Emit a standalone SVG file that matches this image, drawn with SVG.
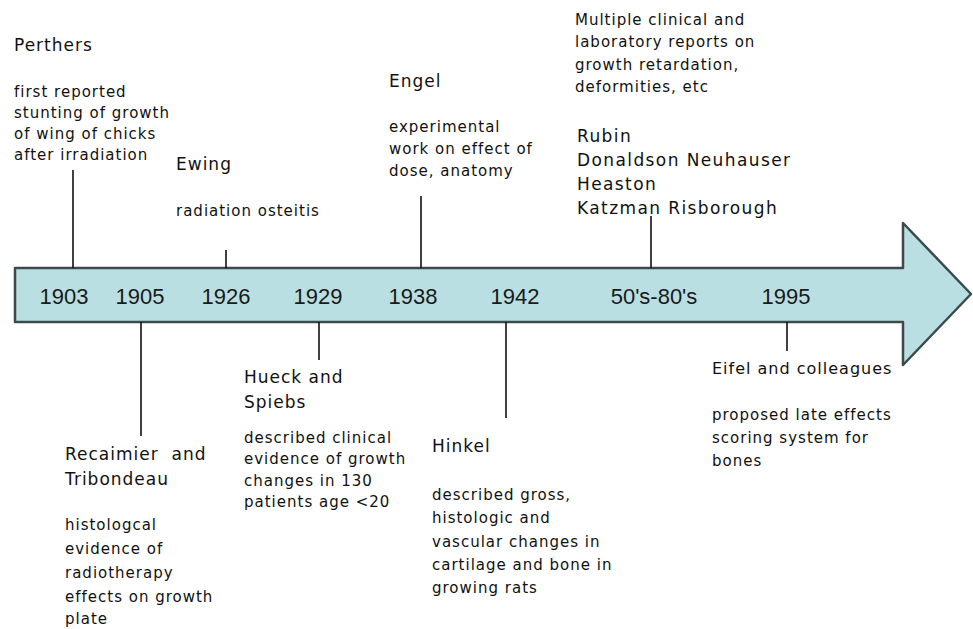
<svg xmlns="http://www.w3.org/2000/svg" width="973" height="629" viewBox="0 0 973 629">
  <style>
    .bg { fill: #ffffff; }
    .arrow { fill: #b9dfe3; stroke: #3c4a4c; stroke-width: 2.5; stroke-linejoin: round; }
    .tick { stroke: #111; stroke-width: 1.6; fill: none; }
    .year { font-family: "Liberation Sans", Arial, sans-serif; font-size: 22px; fill: #1a1a1a; text-anchor: middle; }
    .name { font-family: "DejaVu Sans", Verdana, sans-serif; font-size: 17px; letter-spacing: 1px; fill: #111; }
    .body { font-family: "DejaVu Sans", Verdana, sans-serif; font-size: 15px; letter-spacing: 1px; fill: #111; }
    .wide { letter-spacing: 1.4px; }
  </style>

  <rect class="bg" x="0" y="0" width="973" height="629"/>

  <!-- timeline arrow -->
  <g id="timeline">
    <path class="arrow" d="M15,268 L903,268 L903,223 L971,294 L903,365 L903,322 L15,322 Z"/>
    <text class="year" x="64" y="304">1903</text>
    <text class="year" x="140" y="304">1905</text>
    <text class="year" x="226" y="304">1926</text>
    <text class="year" x="318" y="304">1929</text>
    <text class="year" x="413" y="304">1938</text>
    <text class="year" x="515" y="304">1942</text>
    <text class="year" x="654" y="304">50's-80's</text>
    <text class="year" x="786" y="304">1995</text>
  </g>

  <!-- leader lines from the events to the timeline -->
  <g id="connectors">
    <line class="tick" x1="73" y1="170" x2="73" y2="268"/>
    <line class="tick" x1="226" y1="250" x2="226" y2="268"/>
    <line class="tick" x1="421" y1="196" x2="421" y2="268"/>
    <line class="tick" x1="651" y1="216" x2="651" y2="268"/>
    <line class="tick" x1="141" y1="322" x2="141" y2="436"/>
    <line class="tick" x1="319" y1="322" x2="319" y2="360"/>
    <line class="tick" x1="506" y1="322" x2="506" y2="418"/>
    <line class="tick" x1="787" y1="322" x2="787" y2="351"/>
  </g>

  <g id="perthers">
    <text class="name" x="14" y="51">Perthers</text>
    <text class="body" x="14" y="97">first reported</text>
    <text class="body" x="14" y="118">stunting of growth</text>
    <text class="body" x="14" y="139">of wing of chicks</text>
    <text class="body" x="14" y="160">after irradiation</text>
  </g>

  <g id="ewing">
    <text class="name" x="176" y="170">Ewing</text>
    <text class="body" x="176" y="216">radiation osteitis</text>
  </g>

  <g id="engel">
    <text class="name" x="389" y="87">Engel</text>
    <text class="body" x="389" y="132">experimental</text>
    <text class="body" x="389" y="154">work on effect of</text>
    <text class="body" x="389" y="176">dose, anatomy</text>
  </g>

  <g id="multiple">
    <text class="body" x="575" y="25">Multiple clinical and</text>
    <text class="body" x="575" y="47">laboratory reports on</text>
    <text class="body" x="575" y="70">growth retardation,</text>
    <text class="body" x="575" y="92">deformities, etc</text>
    <text class="name wide" x="577" y="142">Rubin</text>
    <text class="name wide" x="577" y="166">Donaldson Neuhauser</text>
    <text class="name wide" x="577" y="190">Heaston</text>
    <text class="name wide" x="577" y="214">Katzman Risborough</text>
  </g>

  <g id="recaimier">
    <text class="name" x="65" y="460" xml:space="preserve">Recaimier  and</text>
    <text class="name" x="65" y="485">Tribondeau</text>
    <text class="body" x="65" y="530">histologcal</text>
    <text class="body" x="65" y="554">evidence of</text>
    <text class="body" x="65" y="578">radiotherapy</text>
    <text class="body" x="65" y="602">effects on growth</text>
    <text class="body" x="65" y="624">plate</text>
  </g>

  <g id="hueck">
    <text class="name" x="244" y="383">Hueck and</text>
    <text class="name" x="244" y="408">Spiebs</text>
    <text class="body" x="244" y="443">described clinical</text>
    <text class="body" x="244" y="464">evidence of growth</text>
    <text class="body" x="244" y="486">changes in 130</text>
    <text class="body" x="244" y="507">patients age &lt;20</text>
  </g>

  <g id="hinkel">
    <text class="name" x="432" y="452">Hinkel</text>
    <text class="body" x="432" y="500">described gross,</text>
    <text class="body" x="432" y="523">histologic and</text>
    <text class="body" x="432" y="547">vascular changes in</text>
    <text class="body" x="432" y="570">cartilage and bone in</text>
    <text class="body" x="432" y="593">growing rats</text>
  </g>

  <g id="eifel">
    <text class="name" x="712" y="374" style="font-size:16px">Eifel and colleagues</text>
    <text class="body" x="712" y="420">proposed late effects</text>
    <text class="body" x="712" y="443">scoring system for</text>
    <text class="body" x="712" y="466">bones</text>
  </g>
</svg>
